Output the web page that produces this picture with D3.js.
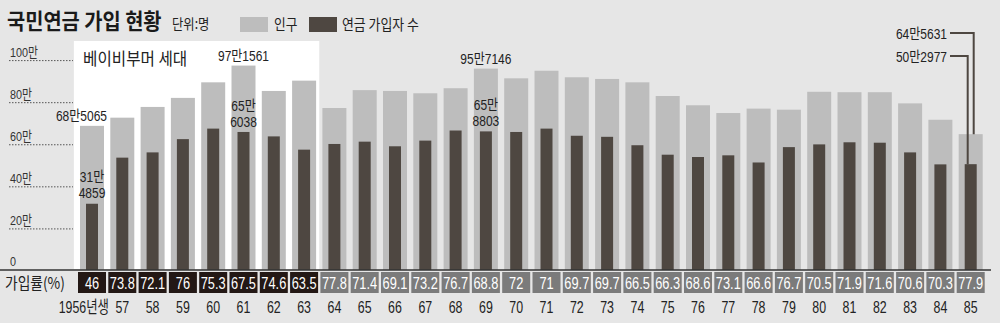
<!DOCTYPE html>
<html>
<head>
<meta charset="utf-8">
<script src="https://cdn.jsdelivr.net/npm/d3@7"></script>
<style>
  html, body { margin: 0; padding: 0; background: #e6e6e6; }
  svg { display: block; }
  text { font-family: "Liberation Sans", Arial, "Noto Sans CJK KR", sans-serif; fill: #222; }
  .kr { font-family: "Noto Sans CJK KR", sans-serif; }
</style>
</head>
<body>
<svg id="chart" width="1000" height="323"></svg>
<script>
// 출생연도
const years = ['1956년생', '57', '58', '59', '60', '61', '62', '63', '64', '65', '66', '67', '68', '69', '70',
  '71', '72', '73', '74', '75', '76', '77', '78', '79', '80', '81', '82', '83', '84', '85'];
// 인구 (만 명)
const population = [68.5065, 72.4, 77.5, 81.8, 89.2, 97.1561, 85.1, 90.0, 77.0, 85.5, 85.1, 84.0, 86.4, 95.7146, 91.1,
  94.7, 91.6, 90.8, 89.2, 82.7, 78.3, 74.6, 76.7, 76.2, 84.7, 84.5, 84.5, 79.2, 71.4, 64.5631];
// 연금 가입자 수 (만 명)
const subscribers = [31.4859, 53.4, 55.9, 62.2, 67.2, 65.6038, 63.5, 57.2, 59.9, 61.0, 58.8, 61.5, 66.3, 65.8803, 65.6,
  67.2, 63.8, 63.3, 59.3, 54.8, 53.7, 54.5, 51.1, 58.4, 59.7, 60.7, 60.5, 55.9, 50.2, 50.2977];
// 가입률 (%)
const rates = [46, 73.8, 72.1, 76, 75.3, 67.5, 74.6, 63.5, 77.8, 71.4, 69.1, 73.2, 76.7, 68.8, 72,
  71, 69.7, 69.7, 66.5, 66.3, 68.6, 73.1, 66.6, 76.7, 70.5, 71.9, 71.6, 70.6, 70.3, 77.9];
const yTicks = [0, 20, 40, 60, 80, 100];
const boomerCount = 8; // 1956~63년생

const svg = d3.select('#chart');
const x = d3.scaleBand().domain(years).range([76.85, 985.85]);
const y = d3.scaleLinear().domain([0, 100]).range([270, 59.6]);
const cx = d => x(d) + x.bandwidth() / 2;

// condensed text helper (the original uses a narrow newspaper face)
function txt(px, py, str, size, sx, anchor, cls) {
  return svg.append('text')
    .attr('class', cls || null)
    .attr('transform', `translate(${px},${py}) scale(${sx},1)`)
    .attr('text-anchor', anchor || 'start')
    .attr('font-size', size)
    .text(str);
}

// title + legend
txt(7, 29, '국민연금 가입 현황', 22, 0.9, 'start', 'kr').attr('font-weight', 'bold').style('fill', '#1a1a1a');
txt(172, 29, '단위:명', 14, 0.88, 'start', 'kr');
svg.append('rect').attr('x', 240).attr('y', 17).attr('width', 28).attr('height', 15).attr('fill', '#bdbdbd');
txt(274, 30, '인구', 15, 0.85, 'start', 'kr');
svg.append('rect').attr('x', 309).attr('y', 17).attr('width', 28).attr('height', 15).attr('fill', '#4e4741');
txt(342, 30, '연금 가입자 수', 15, 0.86, 'start', 'kr');

// baby boomer box
svg.append('rect').attr('x', x(years[0]) - 3).attr('y', 41)
  .attr('width', x(years[boomerCount - 1]) + x.step() - x(years[0]) + 3).attr('height', 228).attr('fill', '#fff');
txt(83, 65, '베이비부머 세대', 17, 0.92, 'start', 'kr');

// y labels + dotted ticks
yTicks.forEach(d => {
  txt(10, d === 0 ? 266 : y(d) - 3, d === 0 ? '0' : d + '만', 13.5, 0.8).style('fill', '#333');
});
svg.selectAll('.ygrid').data(yTicks.filter(d => d > 0)).join('line')
  .attr('x1', 9).attr('x2', 73).attr('y1', d => y(d) + 1).attr('y2', d => y(d) + 1)
  .attr('stroke', '#555').attr('stroke-width', 1).attr('stroke-dasharray', '1.5,1.5');

// bars
svg.selectAll('.pop').data(years).join('rect')
  .attr('x', d => cx(d) - 12).attr('width', 24)
  .attr('y', (d, i) => y(population[i])).attr('height', (d, i) => y(0) - y(population[i]))
  .attr('fill', '#bdbdbd');
svg.selectAll('.sub').data(years).join('rect')
  .attr('x', d => cx(d) - 6).attr('width', 12)
  .attr('y', (d, i) => y(subscribers[i])).attr('height', (d, i) => y(0) - y(subscribers[i]))
  .attr('fill', '#4e4741');

// baseline
svg.append('line').attr('x1', 0).attr('x2', 991).attr('y1', 270).attr('y2', 270)
  .attr('stroke', '#333').attr('stroke-width', 1.5);

// rate row
txt(5, 289, '가입률(%)', 16, 0.86, 'start', 'kr');
svg.selectAll('.rbox').data(years).join('rect')
  .attr('x', d => cx(d) - 14).attr('width', 28).attr('y', 272).attr('height', 21)
  .attr('fill', (d, i) => i < boomerCount ? '#231815' : '#7b7b7b');
years.forEach((d, i) => {
  txt(cx(d), 288.5, rates[i], 16, 0.8, 'middle').style('fill', '#fff');
});

// year labels
years.forEach((d, i) => {
  if (i === 0) txt(cx(d) + 17, 313, d, 16.5, 0.75, 'end');
  else txt(cx(d), 313, d, 16.5, 0.75, 'middle');
});

// value notes
function note(lines, px, yBottom, anchor) {
  lines.slice().reverse().forEach((t, k) => {
    txt(px, yBottom - k * 16, t, 15, 0.8, anchor || 'middle');
  });
}
note(['68만5065'], cx(years[0]) + 15, y(population[0]) - 5, 'end');
note(['31만', '4859'], cx(years[0]), y(subscribers[0]) - 6);
note(['97만1561'], cx(years[5]), y(population[5]) - 5);
note(['65만', '6038'], cx(years[5]), y(subscribers[5]) - 5);
note(['95만7146'], cx(years[13]), y(population[13]) - 5);
note(['65만', '8803'], cx(years[13]), y(subscribers[13]) - 5);

// right-hand leader notes for 85
const last = years.length - 1;
note(['64만5631'], 947, 39, 'end');
note(['50만2977'], 947, 62, 'end');
svg.append('path').attr('d', `M950,33H${cx(years[last]) + 3}V${y(population[last])}`)
  .attr('fill', 'none').attr('stroke', '#4e4741').attr('stroke-width', 2);
svg.append('path').attr('d', `M950,56H${cx(years[last]) - 3}V${y(subscribers[last])}`)
  .attr('fill', 'none').attr('stroke', '#4e4741').attr('stroke-width', 2);
</script>
</body>
</html>
